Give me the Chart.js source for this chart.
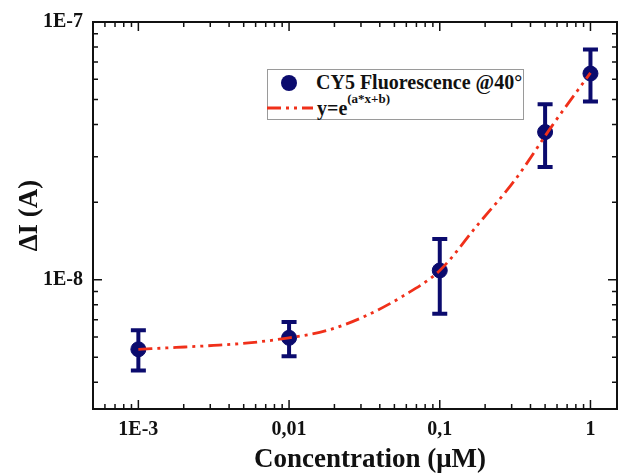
<!DOCTYPE html>
<html><head><meta charset="utf-8">
<script src="https://cdn.jsdelivr.net/npm/chart.js@4.4.1/dist/chart.umd.min.js"></script>
<style>
html,body{margin:0;padding:0;background:#fff;}
#wrap{position:relative;width:626px;height:473px;overflow:hidden;}
#c{display:block;}
.lg{position:absolute;left:267px;top:69px;width:257px;height:51px;box-sizing:border-box;border:1.5px solid #9a9a9a;background:#fff;font-family:"Liberation Serif","Times New Roman",serif;font-weight:bold;color:#111;}
.lg svg{position:absolute;left:-1.5px;top:-1.5px;}
.t1{position:absolute;left:48px;top:2px;font-size:20px;line-height:20px;white-space:nowrap;}
.t2{position:absolute;left:49px;top:28px;font-size:20px;line-height:20px;white-space:nowrap;}
.t2 sup{font-size:13px;position:relative;top:-6px;vertical-align:top;line-height:13px;}
.xt{position:absolute;left:170px;top:443px;width:400px;text-align:center;font-family:"Liberation Serif","Times New Roman",serif;font-weight:bold;font-size:27px;line-height:30px;color:#111;}
</style>
</head><body>
<div id="wrap">
<canvas id="c" width="626" height="473"></canvas>
<div class="lg">
<svg width="60" height="51"><circle cx="22" cy="14" r="8" fill="#0b0b6e"/><line x1="0" y1="39" x2="46" y2="39" stroke="#f0301a" stroke-width="3" stroke-dasharray="14 5 3 5 3 5"/></svg>
<div class="t1">CY5 Fluorescence @40°</div>
<div class="t2">y=e<sup>(a*x+b)</sup></div>
</div>
<div class="xt">Concentration (μM)</div>
</div>
<script>
const concentrations = [0.001, 0.01, 0.1, 0.5, 1];
const deltaI = [5.37e-9, 5.95e-9, 1.086e-8, 3.74e-8, 6.31e-8];
const errUpper = [6.37e-9, 6.85e-9, 1.44e-8, 4.8e-8, 7.82e-8];
const errLower = [4.44e-9, 5.05e-9, 7.37e-9, 2.74e-8, 4.92e-8];
// Fit curve points
const fitX = [0.001, 0.00178, 0.00316, 0.00562, 0.01, 0.0178, 0.0316, 0.0562, 0.1, 0.178, 0.316, 0.562, 1];
const fitY = [5.37e-9, 5.46e-9, 5.56e-9, 5.70e-9, 5.95e-9, 6.35e-9, 7.2e-9, 8.6e-9, 1.086e-8, 1.63e-8, 2.44e-8, 3.99e-8, 6.35e-8];
// Tick labels
const xTickValues = [0.001, 0.01, 0.1, 1];
const xTickLabels = ['1E-3', '0,01', '0,1', '1'];
const yTickValues = [1e-8, 1e-7];
const yTickLabels = ['1E-8', '1E-7'];

const NAVY = '#0b0b6e';
const RED = '#f0301a';
const FONT = '"Liberation Serif","Times New Roman",serif';

function isDecade(v){const l=Math.log10(v);return Math.abs(l-Math.round(l))<1e-6;}
function logTicks(scale){
  const out=[];const lo=Math.floor(Math.log10(scale.min)), hi=Math.ceil(Math.log10(scale.max));
  for(let e=lo;e<=hi;e++){for(let m=1;m<=9;m++){const v=parseFloat((m*Math.pow(10,e)).toPrecision(6));if(v>=scale.min*0.9999&&v<=scale.max*1.0001)out.push({value:v});}}
  scale.ticks=out;
}
function near(a,b){return Math.abs(a-b)/b<1e-6;}

const errorBars={id:'errorBars',beforeDatasetsDraw(chart){
  const {ctx,scales:{x,y}}=chart;ctx.save();ctx.strokeStyle=NAVY;ctx.lineWidth=4;ctx.lineCap='butt';
  concentrations.forEach((c,i)=>{
    const px=x.getPixelForValue(c),pt=y.getPixelForValue(errUpper[i]),pb=y.getPixelForValue(errLower[i]);
    ctx.beginPath();ctx.moveTo(px,pt);ctx.lineTo(px,pb);ctx.stroke();
    ctx.beginPath();ctx.moveTo(px-7.5,pt);ctx.lineTo(px+7.5,pt);ctx.moveTo(px-7.5,pb);ctx.lineTo(px+7.5,pb);ctx.stroke();
  });ctx.restore();}};

const frame={id:'frame',afterDraw(chart){
  const {ctx,chartArea:{left,right,top,bottom},scales:{x,y}}=chart;
  ctx.save();ctx.strokeStyle='#111';ctx.lineWidth=1.5;
  x.ticks.forEach(t=>{const p=x.getPixelForValue(t.value);if(p<=left+1||p>=right-1)return;const L=isDecade(t.value)?9:5;
    ctx.beginPath();ctx.moveTo(p,bottom);ctx.lineTo(p,bottom-L);ctx.moveTo(p,top);ctx.lineTo(p,top+L);ctx.stroke();});
  y.ticks.forEach(t=>{const p=y.getPixelForValue(t.value);if(p<=top+1||p>=bottom-1)return;const L=isDecade(t.value)?9:5;
    ctx.beginPath();ctx.moveTo(left,p);ctx.lineTo(left+L,p);ctx.moveTo(right,p);ctx.lineTo(right-L,p);ctx.stroke();});
  ctx.lineWidth=2;ctx.strokeRect(left,top,right-left,bottom-top);
  ctx.restore();}};

new Chart(document.getElementById('c'),{
  type:'scatter',
  data:{datasets:[
    {label:'y=e^(a*x+b)',data:fitX.map((v,i)=>({x:v,y:fitY[i]})),showLine:true,borderColor:RED,borderWidth:2.8,borderDash:[14,5,3,5,3,5],pointRadius:0,cubicInterpolationMode:'monotone',fill:false},
    {label:'CY5 Fluorescence @40°',data:concentrations.map((v,i)=>({x:v,y:deltaI[i]})),pointRadius:7.5,pointBackgroundColor:NAVY,pointBorderColor:NAVY,showLine:false}
  ]},
  options:{
    responsive:false,animation:false,devicePixelRatio:1,
    layout:{padding:{left:0,right:9,top:16,bottom:0}},
    plugins:{legend:{display:false},tooltip:{enabled:false}},
    scales:{
      x:{type:'logarithmic',min:5e-4,max:1.5,
        afterBuildTicks:logTicks,afterFit:s=>{s.height=64;},
        grid:{display:false,drawTicks:false},border:{display:false},
        ticks:{autoSkip:false,maxRotation:0,padding:9,color:'#111',font:{family:FONT,weight:'bold',size:20},
          callback:(v)=>{const i=xTickValues.findIndex(t=>near(v,t));return i>=0?xTickLabels[i]:'';}}},
      y:{type:'logarithmic',min:3.15e-9,max:1e-7,
        afterBuildTicks:logTicks,afterFit:s=>{s.width=93;},
        grid:{display:false,drawTicks:false},border:{display:false},
        title:{display:true,text:'ΔI (A)',color:'#111',font:{family:FONT,weight:'bold',size:27},padding:{top:14,bottom:0}},
        ticks:{autoSkip:false,padding:10,color:'#111',font:{family:FONT,weight:'bold',size:20},
          callback:(v)=>{const i=yTickValues.findIndex(t=>near(v,t));return i>=0?yTickLabels[i]:'';}}}
    }
  },
  plugins:[errorBars,frame]
});
</script>
</body></html>
